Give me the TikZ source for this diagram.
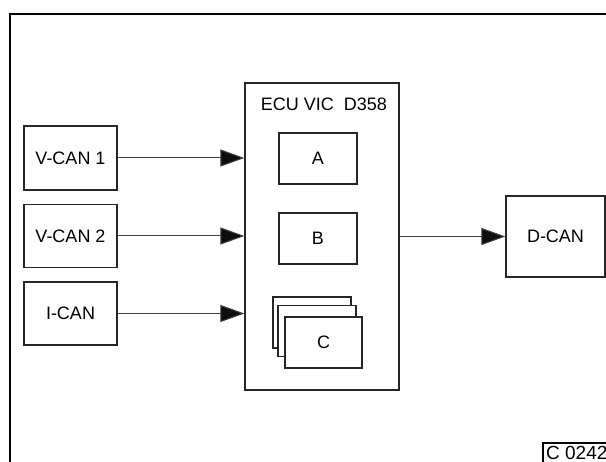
\documentclass[tikz,border=0pt]{standalone}
\usepackage{fontspec}
\setmainfont{Liberation Sans}
\usetikzlibrary{arrows.meta}
\begin{document}
\begin{tikzpicture}[x=1pt,y=-1pt,
  box/.style={draw=black!85, line width=1.2pt, fill=white, inner sep=0pt, font=\fontsize{18}{21}\selectfont},
  conn/.style={draw=black!75, line width=1pt, -{Triangle[length=24pt,width=17pt,fill=black!95]}},
  lbl/.style={inner sep=0pt, font=\fontsize{18}{21}\selectfont}]
\useasboundingbox (0,0) rectangle (606,462);
\clip (0,0) rectangle (606,462);
% outer frame
\draw[line width=2pt] (10,480) -- (10,14) -- (620,14);
% input boxes
\node[box, minimum width=93pt, minimum height=64pt] (v1) at (70.5,158) {V-CAN 1};
\node[box, minimum width=93pt, minimum height=63pt] (v2) at (70.5,236) {V-CAN 2};
\node[box, minimum width=93pt, minimum height=63pt] (ic) at (70.5,313.5) {I-CAN};
% ECU
\node[box, minimum width=154pt, minimum height=307pt] (ecu) at (322,236.5) {};
\node[lbl] (title) at (324,104) {ECU VIC\ \ D358};
\node[box, minimum width=78pt, minimum height=51pt] (a) at (318,158.5) {A};
\node[box, minimum width=78pt, minimum height=51pt] (b) at (318,238.5) {B};
\node[box, minimum width=78pt, minimum height=51pt] (c3) at (312,322.5) {};
\node[box, minimum width=78pt, minimum height=51pt] (c2) at (317,331) {};
\node[box, minimum width=77pt, minimum height=51pt] (c) at (323.5,342.5) {C};
% output
\node[box, minimum width=99pt, minimum height=81pt] (d) at (555.5,236.5) {D-CAN};
% connectors
\coordinate (e1) at (ecu.west |- v1.east);
\coordinate (e2) at (ecu.west |- v2.east);
\coordinate (e3) at (ecu.west |- ic.east);
\draw[conn] (v1.east) -- (e1);
\draw[conn] (v2.east) -- (e2);
\draw[conn] (ic.east) -- (e3);
\coordinate (eo) at (ecu.east |- d.west);
\draw[conn] (eo) -- (d.west);
% reference label
\draw[line width=1.2pt] (543,480) -- (543,443) -- (620,443);
\node[lbl, anchor=north west, font=\fontsize{19}{22}\selectfont] (ref) at (546,446) {C 0242};
\end{tikzpicture}
\end{document}
